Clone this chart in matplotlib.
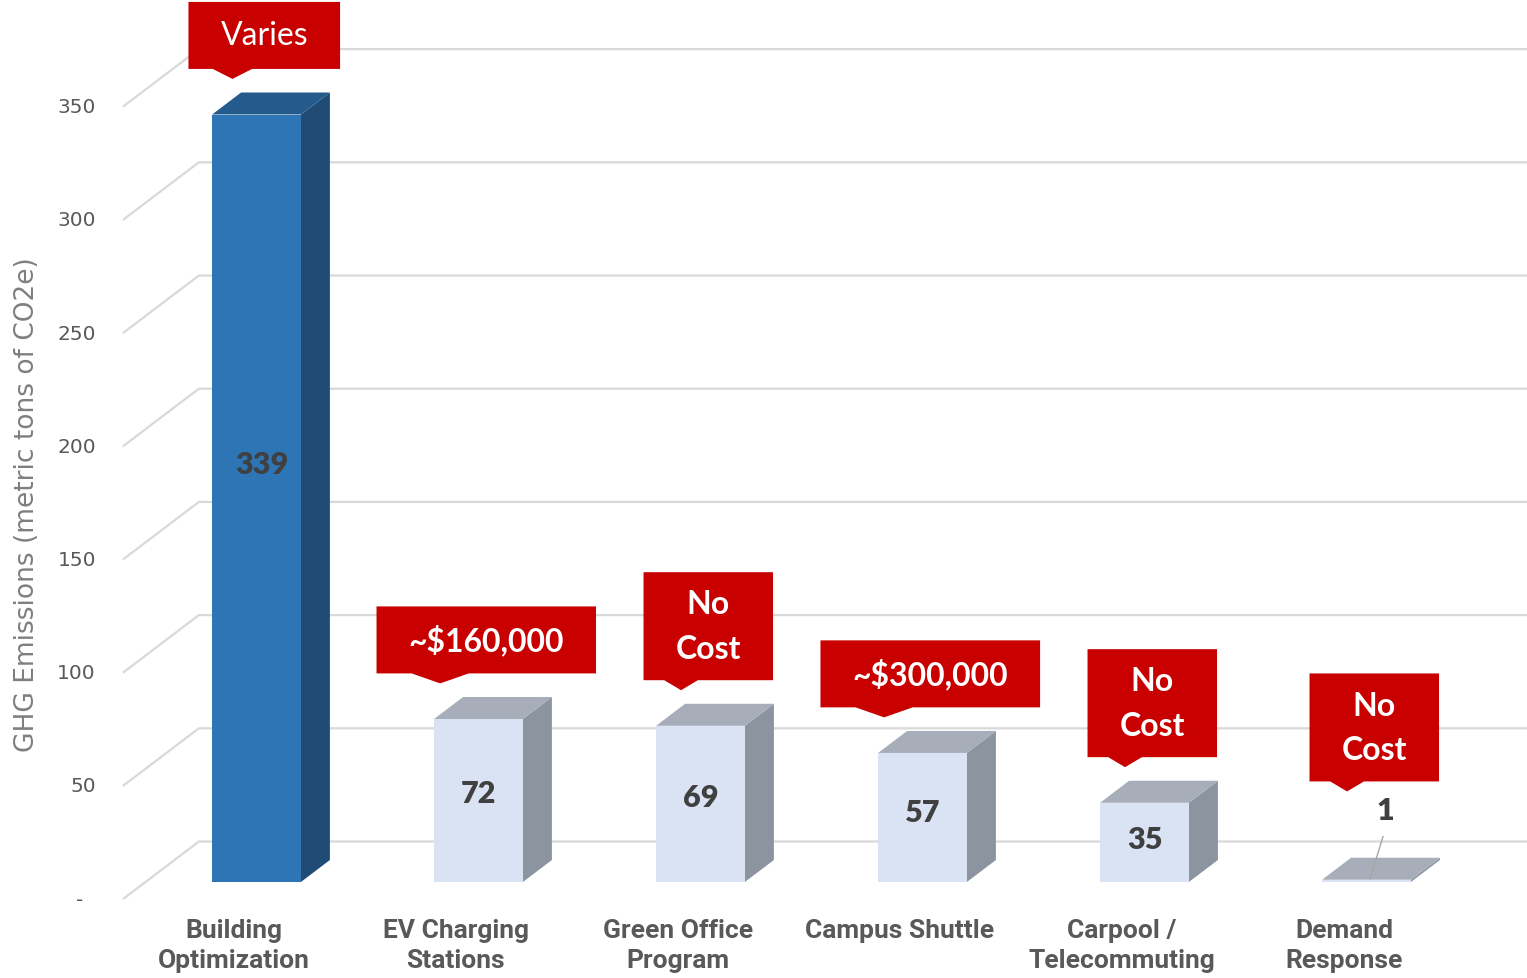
import numpy as np
import matplotlib
matplotlib.use("Agg")
import matplotlib.pyplot as plt
from matplotlib.patches import Polygon

categories = ["Building\nOptimization", "EV Charging\nStations", "Green Office\nProgram",
              "Campus Shuttle", "Carpool /\nTelecommuting", "Demand\nResponse"]
emissions = [339, 72, 69, 57, 35, 1]
costs = ["Varies", "~$160,000", "No\nCost", "~$300,000", "No\nCost", "No\nCost"]
cost_bold = [False, True, True, True, True, True]
y_ticks = [0, 50, 100, 150, 200, 250, 300, 350]
y_tick_labels = ["-  ", "50", "100", "150", "200", "250", "300", "350"]

W, H = 1527, 979
PX_X = 222.0     # pixels per category
PX_Y = 2.264     # pixels per ton
X0_PX = 256.5    # first bar centre
Y0_PX = 883.0    # bar base line (from top)

# fake 3d: oblique depth offset (one bar depth) in data units
DX, DY = 29 / PX_X, 22 / PX_Y
BAR_W = 0.4
WALL_X = -0.5
Z_FRONT, Z_BACK = -0.78, 1.84

RED = "#C80000"
GRID = "#D9D9D9"

fig = plt.figure(figsize=(W / 100, H / 100), dpi=100)
ax = fig.add_axes([0, 0, 1, 1])
xmin, xmax = -X0_PX / PX_X, (W - X0_PX) / PX_X
ymin, ymax = -(H - Y0_PX) / PX_Y, Y0_PX / PX_Y
ax.set_xlim(xmin, xmax)
ax.set_ylim(ymin, ymax)
ax.axis("off")

# gridlines: diagonal on the side wall, then flat along the back wall
for v, lab in zip(y_ticks, y_tick_labels):
    xs = [WALL_X + Z_FRONT * DX, WALL_X + Z_BACK * DX, xmax]
    ys = [v + Z_FRONT * DY, v + Z_BACK * DY, v + Z_BACK * DY]
    ax.plot(xs, ys, color=GRID, lw=1.6, zorder=1, solid_capstyle="butt")
    ax.text(xs[0] - 27 / PX_X, ys[0], lab, ha="right", va="center",
            fontsize=14.5, color="#595959")

fig.text(27 / W, 1 - 505 / H, "GHG Emissions (metric tons of CO2e)", rotation=90,
         ha="center", va="center", fontsize=19, color="#7F7F7F")

# bars
for i, v in enumerate(emissions):
    if i == 0:
        c_front, c_side, c_top = "#2E75B6", "#1F4B75", "#255A8C"
    else:
        c_front, c_side, c_top = "#DAE3F3", "#8C949F", "#A7AEBA"
    xl, xr = i - BAR_W / 2, i + BAR_W / 2
    ax.add_patch(Polygon([(xr, 0), (xr + DX, DY), (xr + DX, v + DY), (xr, v)],
                         closed=True, fc=c_side, ec="none", zorder=3))
    ax.add_patch(Polygon([(xl, v), (xr, v), (xr + DX, v + DY), (xl + DX, v + DY)],
                         closed=True, fc=c_top, ec="none", zorder=3))
    ax.add_patch(Polygon([(xl, 0), (xr, 0), (xr, v), (xl, v)],
                         closed=True, fc=c_front, ec="none", zorder=4))

    # value labels
    if v > 10:
        ax.text(i + (0.025 if i == 0 else 0), v * 0.545, str(v), ha="center", va="center",
                fontsize=22, fontweight="heavy", color="#404040", family="Lato", zorder=6)
    else:
        ly = v + 31
        ax.text(i + 0.083, ly, str(v), ha="center", va="center",
                fontsize=22, fontweight="heavy", color="#404040", family="Lato", zorder=6)
        ax.plot([i + 0.016, i + 0.074], [v + 0.3, ly - 12], color="#A6A6A6", lw=1, zorder=6)

    # category label
    ax.text(i + Z_FRONT * DX, Z_FRONT * DY - 8.5, categories[i], ha="center", va="top",
            fontsize=19, fontweight="bold", color="#595959", family="Roboto",
            linespacing=1.3)

# cost callouts
fig.canvas.draw()
renderer = fig.canvas.get_renderer()
for i, (v, txt) in enumerate(zip(emissions, costs)):
    tip_y = (v + DY + 6) if v > 10 else (v + 31 + 8)
    n = txt.count("\n") + 1
    box_h = (26 + 41 * n) / PX_Y
    wedge = 10 / PX_Y
    bottom = tip_y + wedge
    cx = i + 0.035
    t = ax.text(cx, bottom + box_h / 2, txt, ha="center", va="center", color="white",
                fontsize=23, fontweight="bold" if cost_bold[i] else "normal",
                family="Lato", linespacing=1.65, zorder=8)
    tw = t.get_window_extent(renderer).width
    box_w = (tw + 64) / PX_X
    left = cx - box_w / 2
    right = cx + box_w / 2
    pts = [(left, bottom), (left + 0.16 * box_w, bottom), (left + 0.29 * box_w, tip_y),
           (left + 0.42 * box_w, bottom), (right, bottom), (right, bottom + box_h),
           (left, bottom + box_h)]
    ax.add_patch(Polygon(pts, closed=True, fc=RED, ec="none", zorder=7))

fig.savefig("out.png", dpi=100, facecolor="white")
